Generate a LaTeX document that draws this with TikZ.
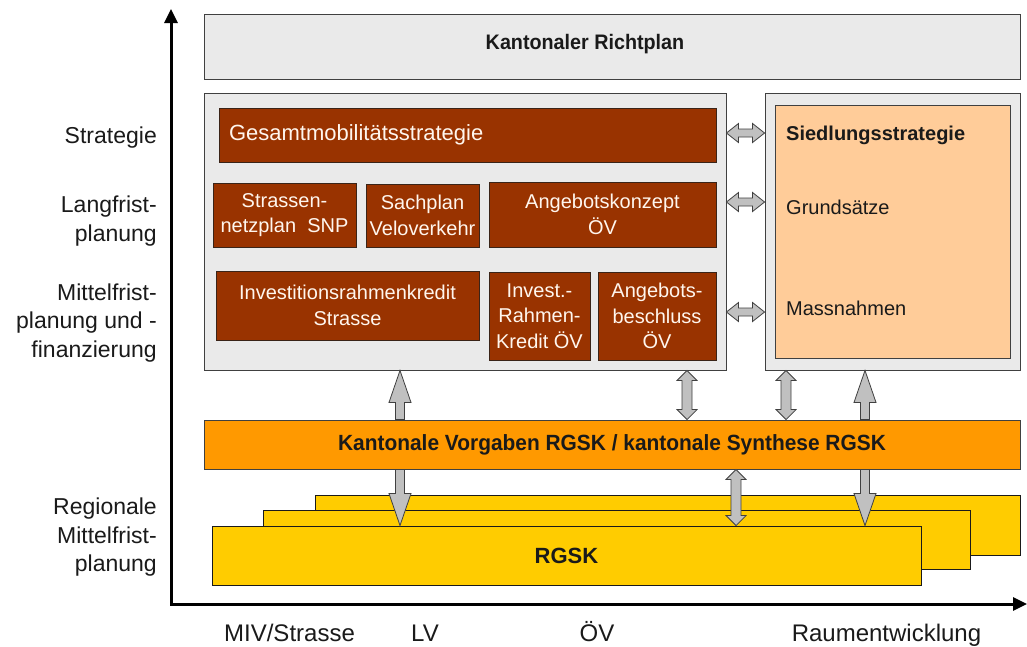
\documentclass[tikz,border=0pt]{standalone}
\usepackage{fontspec}
\usepackage{graphicx}
\setmainfont{Liberation Sans}
\usetikzlibrary{calc,arrows.meta}

\definecolor{panelgrey}{HTML}{EAEAEA}
\definecolor{edge}{HTML}{404040}
\definecolor{taskbrown}{HTML}{993300}
\definecolor{taskedge}{HTML}{3A2418}
\definecolor{tasktext}{HTML}{FFF6EE}
\definecolor{peach}{HTML}{FFCC99}
\definecolor{orangebar}{HTML}{FF9900}
\definecolor{rgskyellow}{HTML}{FFCC00}
\definecolor{arrowfill}{HTML}{C0C0C0}
\definecolor{ink}{HTML}{1A1A1A}

\tikzset{
  panel/.style={draw=edge, fill=panelgrey, line width=0.9pt, inner sep=0pt},
  task/.style={draw=taskedge, fill=taskbrown, text=tasktext, line width=0.9pt,
    inner sep=0pt, align=center, font=\fontsize{20}{25.5}\selectfont},
  levellabel/.style={text=ink, align=right, inner sep=0pt, anchor=east,
    font=\fontsize{23}{28.5}\selectfont},
  sectorlabel/.style={text=ink, inner sep=0pt, anchor=base, font=\fontsize{24}{28}\selectfont},
  settle/.style={text=ink, inner sep=0pt, anchor=base west, font=\fontsize{20}{24}\selectfont},
  rgsk/.style={draw=ink, fill=rgskyellow, line width=0.9pt, inner sep=0pt},
  blk/.style={draw=edge, fill=arrowfill, line width=0.8pt, line join=miter},
  axisline/.style={line width=3pt, {Triangle[length=14pt,width=13pt]}-{Triangle[length=14pt,width=13pt]}}
}

% single vertical block arrow from tail #1 to tip #2
\newcommand\blkV[2]{\draw[blk] let \p1=#1, \p2=#2, \n1={2*(\y2>\y1)-1} in
  (\x1-4.5pt,\y1) -- (\x1-4.5pt,{\y2-\n1*32pt}) -- (\x1-11pt,{\y2-\n1*32pt}) -- (\x1,\y2)
  -- (\x1+11pt,{\y2-\n1*32pt}) -- (\x1+4.5pt,{\y2-\n1*32pt}) -- (\x1+4.5pt,\y1) -- cycle;}
% double vertical block arrow between #1 and #2
\newcommand\blkVV[2]{\draw[blk] let \p1=#1, \p2=#2, \n1={2*(\y2>\y1)-1} in
  (\x1,\y1) -- (\x1+10pt,{\y1+\n1*10pt}) -- (\x1+5pt,{\y1+\n1*10pt}) -- (\x1+5pt,{\y2-\n1*10pt})
  -- (\x1+10pt,{\y2-\n1*10pt}) -- (\x1,\y2) -- (\x1-10pt,{\y2-\n1*10pt}) -- (\x1-5pt,{\y2-\n1*10pt})
  -- (\x1-5pt,{\y1+\n1*10pt}) -- (\x1-10pt,{\y1+\n1*10pt}) -- cycle;}
% double horizontal block arrow between #1 and #2
\newcommand\blkHH[2]{\draw[blk] let \p1=#1, \p2=#2, \n1={2*(\x2>\x1)-1} in
  (\x1,\y1) -- ({\x1+\n1*12pt},\y1+9.5pt) -- ({\x1+\n1*12pt},\y1+4pt) -- ({\x2-\n1*12pt},\y1+4pt)
  -- ({\x2-\n1*12pt},\y1+9.5pt) -- (\x2,\y1) -- ({\x2-\n1*12pt},\y1-9.5pt) -- ({\x2-\n1*12pt},\y1-4pt)
  -- ({\x1+\n1*12pt},\y1-4pt) -- ({\x1+\n1*12pt},\y1-9.5pt) -- cycle;}

\begin{document}
\begin{tikzpicture}[x=1pt, y=-1pt]
\useasboundingbox (0,0) rectangle (1027,646);
\fill[white] (0,0) rectangle (1027,646);

% axes
\coordinate (origin) at (171,604);
\coordinate (ytip) at (171,9);
\coordinate (xtip) at (1027,604);
\draw[axisline] (xtip) -- (origin) -- (ytip);

% planning levels
\node[levellabel] (lstrat) at (157,137.5) {Strategie};
\node[levellabel] (llang) at (157,221) {Langfrist-\\planung};
\node[levellabel] (lmittel) at (157,323) {Mittelfrist-\\planung und -\\finanzierung};
\node[levellabel] (lreg) at (157,537.5) {Regionale\\Mittelfrist-\\planung};

% sectors
\node[sectorlabel] (dmiv) at (289.5,641.5) {MIV/Strasse};
\node[sectorlabel] (dlv) at (425,641.5) {LV};
\node[sectorlabel] (dov) at (597,641.5) {ÖV};
\node[sectorlabel] (draum) at (886.5,641.5) {Raumentwicklung};

% cantonal structure plan (title sits a little left of and above the box centre)
\node[panel, minimum width=816pt, minimum height=65pt, text=ink,
  font=\bfseries\fontsize{21}{25}\selectfont] (richtplan) at (612,46.5)
  {\hspace*{-54pt}\raisebox{2.5pt}[\height][\depth]{\scalebox{0.94}[1]{Kantonaler Richtplan}}};

% transport panel
\node[panel, minimum width=522pt, minimum height=277pt] (lpanel) at (465,231.5) {};
\node[task, minimum width=497pt, minimum height=54pt, text width=477pt, align=left,
  font=\fontsize{22}{26}\selectfont] (gms) at (467.5,135) {Gesamtmobilitätsstrategie};
\node[task, minimum width=143pt, minimum height=64pt] (snp) at (284.5,215) {Strassen-\\netzplan\ \ SNP};
\node[task, minimum width=113pt, minimum height=63pt] (sach) at (422.5,215.5) {Sachplan\\Veloverkehr};
\node[task, minimum width=227pt, minimum height=65pt] (angk) at (602.5,214.5) {Angebotskonzept\\ÖV};
\node[task, minimum width=263pt, minimum height=69pt] (irk) at (347.5,305.5) {Investitionsrahmenkredit\\Strasse};
\node[task, minimum width=101pt, minimum height=88pt] (irkov) at (539.5,316) {Invest.-\\Rahmen-\\Kredit ÖV};
\node[task, minimum width=118pt, minimum height=88pt] (angb) at (657,316) {Angebots-\\beschluss\\ÖV};

% settlement panel
\node[panel, minimum width=255pt, minimum height=277pt] (rpanel) at (892.5,231.5) {};
\node[draw=edge, fill=peach, line width=0.9pt, minimum width=235pt, minimum height=253pt,
  inner sep=0pt] (siedl) at (892.5,231.5) {};
\node[settle, font=\bfseries\fontsize{20}{24}\selectfont] (sstrat) at (786,140) {Siedlungsstrategie};
\node[settle] (sgrund) at (786,214.5) {Grundsätze};
\node[settle] (smass) at (786,315) {Massnahmen};

% cantonal guidelines bar
\node[draw=edge, fill=orangebar, line width=0.9pt, minimum width=816pt, minimum height=49pt,
  inner sep=0pt, text=ink, font=\bfseries\fontsize{22}{26}\selectfont] (vorgaben) at (612,444.5)
  {\scalebox{0.95}[1]{Kantonale Vorgaben RGSK / kantonale Synthese RGSK}};

% regional programmes (stacked)
\node[rgsk, minimum width=705pt, minimum height=60pt] (rgskc) at (667.5,525) {};
\node[rgsk, minimum width=707pt, minimum height=59pt] (rgskb) at (616.5,539.5) {};
\node[rgsk, minimum width=709pt, minimum height=59pt, text=ink,
  font=\bfseries\fontsize{22}{26}\selectfont] (rgska) at (566.5,555.5) {RGSK};

% exchange arrows between the two panels
\coordinate (h1) at (0,133);
\coordinate (h2) at (0,202);
\coordinate (h3) at (0,312);
\blkHH{(lpanel.east |- h1)}{(rpanel.west |- h1)}
\blkHH{(lpanel.east |- h2)}{(rpanel.west |- h2)}
\blkHH{(lpanel.east |- h3)}{(rpanel.west |- h3)}

% vertical links
\coordinate (v1) at (400,0);
\coordinate (v2) at (687,0);
\coordinate (v3) at (786,0);
\coordinate (v4) at (865,0);
\coordinate (v5) at (736,0);
\blkV{(v1 |- vorgaben.north)}{(v1 |- lpanel.south)}
\blkV{(v1 |- vorgaben.south)}{(v1 |- rgska.north)}
\blkVV{(v2 |- lpanel.south)}{(v2 |- vorgaben.north)}
\blkVV{(v3 |- rpanel.south)}{(v3 |- vorgaben.north)}
\blkV{(v4 |- vorgaben.north)}{(v4 |- rpanel.south)}
\blkV{(v4 |- vorgaben.south)}{(v4 |- rgska.north)}
\blkVV{(v5 |- vorgaben.south)}{(v5 |- rgska.north)}
\end{tikzpicture}
\end{document}
